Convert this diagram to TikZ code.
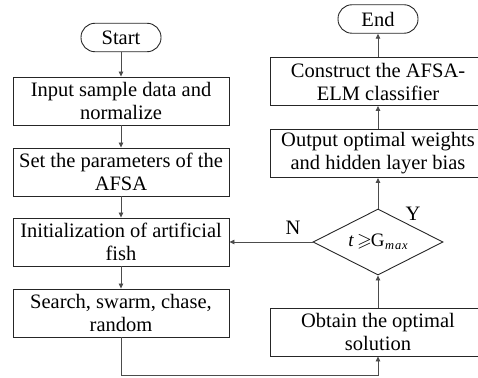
\documentclass[tikz,border=0pt]{standalone}
\usepackage{fontspec}
\usepackage{amssymb}
\setmainfont{Liberation Serif}
\usetikzlibrary{arrows.meta,shapes.geometric}
\begin{document}
\begin{tikzpicture}[x=1pt,y=-1pt,
  every node/.style={font=\fontsize{20.5}{23}\selectfont},
  procbox/.style={draw=black!85,line width=0.9pt,minimum width=216pt,minimum height=48pt,
    align=center,inner sep=0pt},
  terminal/.style={draw=black!85,line width=0.9pt,rounded corners=14pt,minimum width=80pt,
    minimum height=28.5pt,inner sep=0pt},
  decision/.style={draw=black!85,line width=0.9pt,diamond,aspect=2,minimum width=130pt,
    minimum height=66pt,inner sep=0pt},
  flow/.style={draw=black!70,line width=0.8pt,-{Triangle[length=5pt,width=4.5pt]}},
  lbl/.style={inner sep=0pt}]
\useasboundingbox (0,0) rectangle (478,377);
\clip (0,0) rectangle (478,377);

% left column
\node[terminal] (start) at (121,37.5) {Start};
\node[procbox] (input) at (121,101) {Input sample data and\\normalize};
\node[procbox] (param) at (121,172) {Set the parameters of the\\AFSA};
\node[procbox] (init) at (121,242) {Initialization of artificial\\fish};
\node[procbox] (search) at (121,313) {Search, swarm, chase,\\random};

% right column
\node[terminal] (end) at (378,19) {End};
\node[procbox] (build) at (378,81.5) {Construct the AFSA-\\ELM classifier};
\node[procbox] (output) at (378,153.5) {Output optimal weights\\and hidden layer bias};
\node[decision] (test) at (378,242) {\fontsize{19}{20}\selectfont\textit{t}\,$\geqslant$\kern-1ptG\kern0.5pt\raisebox{-3.5pt}{\fontsize{12.5}{13}\selectfont\textit{m\kern0.8pt a\kern0.8pt x}}};
\node[procbox] (best) at (378,332) {Obtain the optimal\\solution};

\coordinate (low) at (121,375);

% connectors
\draw[flow] (start) -- (input);
\draw[flow] (input) -- (param);
\draw[flow] (param) -- (init);
\draw[flow] (init) -- (search);
\draw[flow] (search.south) -- (low) -| (best.south);
\draw[flow] (best) -- (test.south);
\draw[flow] (test.north) -- (output);
\draw[flow] (output) -- (build);
\draw[flow] (build) -- (end);
\draw[flow] (test.west) -- (init.east);

% branch labels
\node[lbl] (nlab) at (293,228) {N};
\node[lbl] (ylab) at (413,214) {Y};
\end{tikzpicture}
\end{document}
